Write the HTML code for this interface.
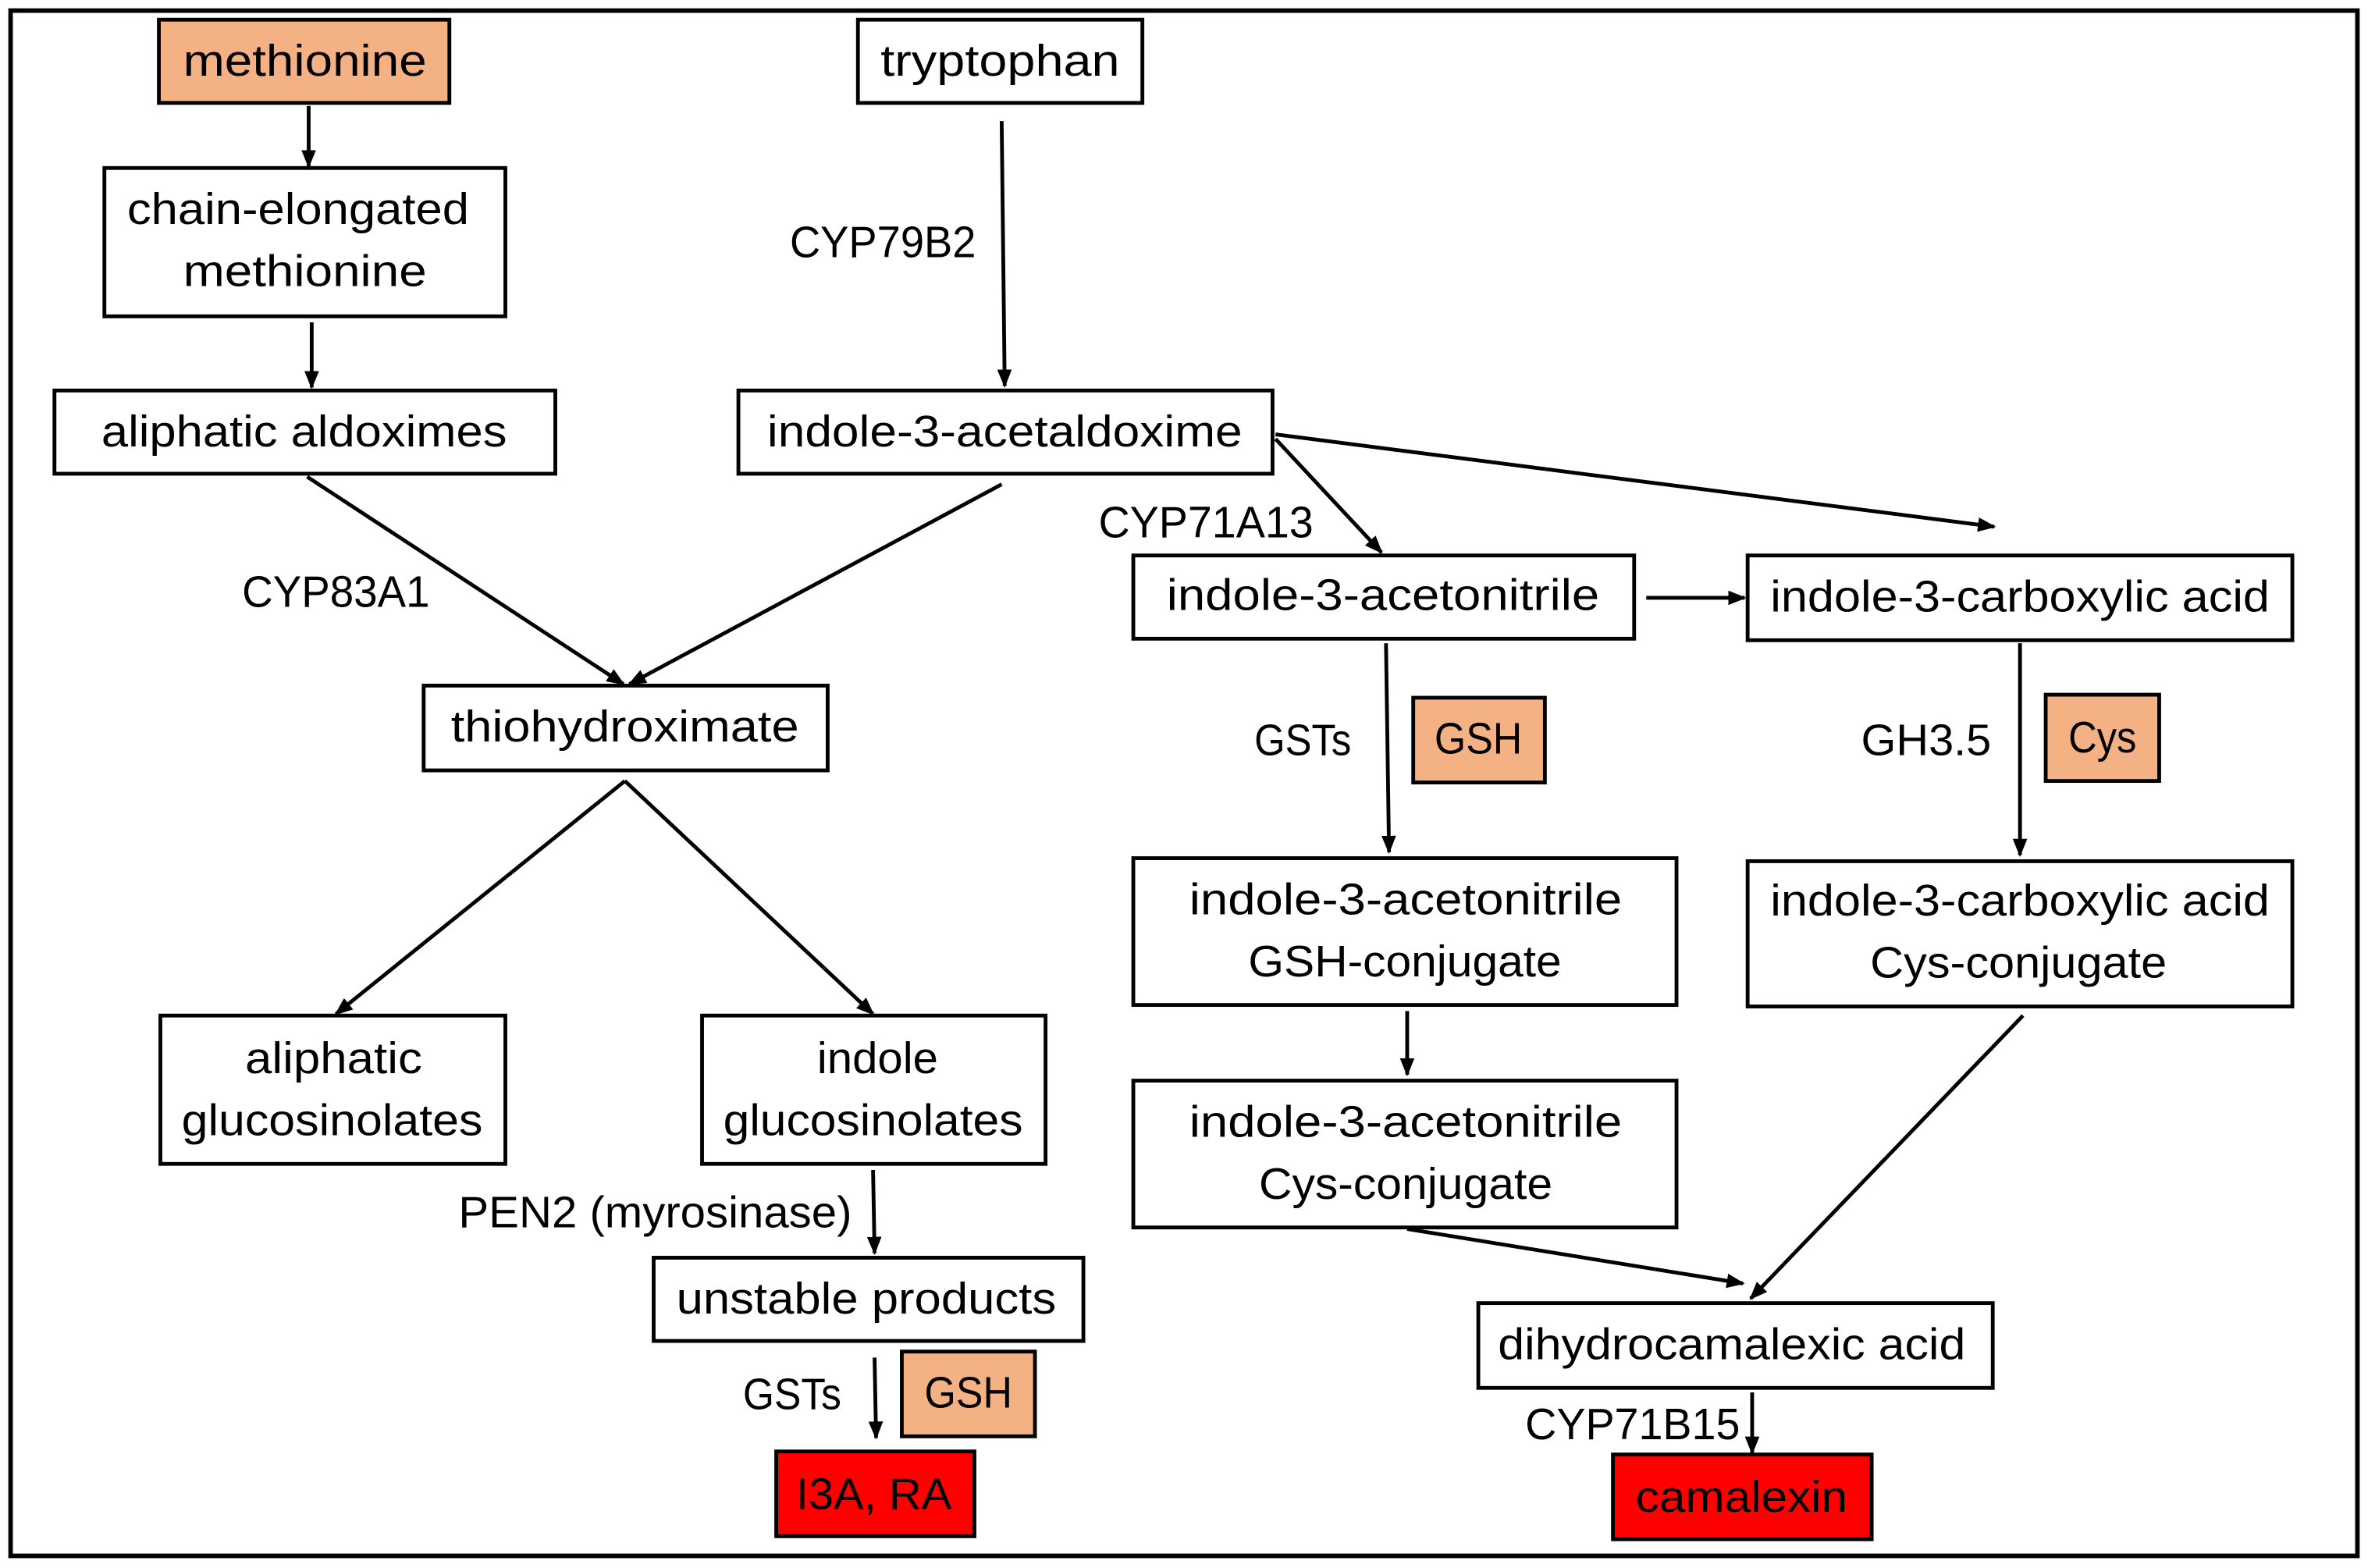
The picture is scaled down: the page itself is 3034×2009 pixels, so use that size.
<!DOCTYPE html>
<html><head><meta charset="utf-8"><style>
html,body{margin:0;padding:0;background:#fff}
svg{display:block}
text{font-family:"Liberation Sans",sans-serif;font-size:29px;fill:#000}
</style></head><body>
<svg width="3034" height="2009" viewBox="0 0 1565 1036" preserveAspectRatio="none" xmlns="http://www.w3.org/2000/svg">
<defs>
<marker id="b" viewBox="0 0 10 10" refX="9" refY="5" markerWidth="12" markerHeight="12" orient="auto" markerUnits="userSpaceOnUse"><path d="M0,1 L10,5 L0,9 z" fill="#000"/></marker></defs>
<rect x="7" y="7" width="1551" height="1021" fill="#fff" stroke="#000" stroke-width="3"/>
<g stroke="#000" stroke-width="2.5" fill="#fff">
<rect x="105" y="13" width="192" height="55" fill="#F4B183"/>
<rect x="567" y="13" width="188" height="55"/>
<rect x="69" y="111" width="265" height="98"/>
<rect x="36" y="258" width="331" height="55"/>
<rect x="488" y="258" width="353" height="55"/>
<rect x="749" y="367" width="331" height="55"/>
<rect x="1155" y="367" width="360" height="56"/>
<rect x="280" y="453" width="267" height="56"/>
<rect x="934" y="461" width="87" height="56" fill="#F4B183"/>
<rect x="1352" y="459" width="75" height="57" fill="#F4B183"/>
<rect x="749" y="567" width="359" height="97"/>
<rect x="1155" y="569" width="360" height="96"/>
<rect x="106" y="671" width="228" height="98"/>
<rect x="464" y="671" width="227" height="98"/>
<rect x="749" y="714" width="359" height="97"/>
<rect x="432" y="831" width="284" height="55"/>
<rect x="596" y="893" width="88" height="56" fill="#F4B183"/>
<rect x="513" y="959" width="131" height="56" fill="#FF0000"/>
<rect x="977" y="861" width="340" height="56"/>
<rect x="1066" y="961" width="171" height="56" fill="#FF0000"/>
</g>
<g stroke="#000" stroke-width="2.5" fill="none" marker-end="url(#b)">
<line x1="204" y1="70" x2="204" y2="110"/>
<line x1="206" y1="213" x2="206" y2="256"/>
<line x1="662" y1="80" x2="664" y2="255"/>
<line x1="203" y1="315" x2="412" y2="452"/>
<line x1="662" y1="320" x2="416" y2="452"/>
<line x1="843" y1="287" x2="1318" y2="348"/>
<line x1="843" y1="290" x2="913" y2="365"/>
<line x1="1088" y1="395" x2="1153" y2="395"/>
<line x1="916" y1="425" x2="918" y2="563"/>
<line x1="1335" y1="425" x2="1335" y2="565"/>
<line x1="930" y1="668" x2="930" y2="710"/>
<line x1="413" y1="516" x2="222" y2="670"/>
<line x1="413" y1="516" x2="577" y2="670"/>
<line x1="577" y1="773" x2="578" y2="828"/>
<line x1="578" y1="897" x2="579" y2="950"/>
<line x1="930" y1="812" x2="1152" y2="848"/>
<line x1="1337" y1="671" x2="1157" y2="858"/>
<line x1="1158" y1="920" x2="1158" y2="960"/>
</g>
<g>
<text x="121" y="50" textLength="161" lengthAdjust="spacingAndGlyphs">methionine</text>
<text x="582" y="50" textLength="158" lengthAdjust="spacingAndGlyphs">tryptophan</text>
<text x="84" y="148" textLength="226" lengthAdjust="spacingAndGlyphs">chain-elongated</text>
<text x="121" y="189" textLength="161" lengthAdjust="spacingAndGlyphs">methionine</text>
<text x="67" y="295" textLength="268" lengthAdjust="spacingAndGlyphs">aliphatic aldoximes</text>
<text x="507" y="295" textLength="314" lengthAdjust="spacingAndGlyphs">indole-3-acetaldoxime</text>
<text x="771" y="403" textLength="286" lengthAdjust="spacingAndGlyphs">indole-3-acetonitrile</text>
<text x="1170" y="404" textLength="330" lengthAdjust="spacingAndGlyphs">indole-3-carboxylic acid</text>
<text x="298" y="490" textLength="230" lengthAdjust="spacingAndGlyphs">thiohydroximate</text>
<text x="948" y="498" textLength="58" lengthAdjust="spacingAndGlyphs">GSH</text>
<text x="1367" y="497" textLength="45" lengthAdjust="spacingAndGlyphs">Cys</text>
<text x="786" y="604" textLength="286" lengthAdjust="spacingAndGlyphs">indole-3-acetonitrile</text>
<text x="825" y="645" textLength="207" lengthAdjust="spacingAndGlyphs">GSH-conjugate</text>
<text x="1170" y="605" textLength="330" lengthAdjust="spacingAndGlyphs">indole-3-carboxylic acid</text>
<text x="1236" y="646" textLength="196" lengthAdjust="spacingAndGlyphs">Cys-conjugate</text>
<text x="162" y="709" textLength="117" lengthAdjust="spacingAndGlyphs">aliphatic</text>
<text x="120" y="750" textLength="199" lengthAdjust="spacingAndGlyphs">glucosinolates</text>
<text x="540" y="709" textLength="80" lengthAdjust="spacingAndGlyphs">indole</text>
<text x="478" y="750" textLength="198" lengthAdjust="spacingAndGlyphs">glucosinolates</text>
<text x="786" y="751" textLength="286" lengthAdjust="spacingAndGlyphs">indole-3-acetonitrile</text>
<text x="832" y="792" textLength="194" lengthAdjust="spacingAndGlyphs">Cys-conjugate</text>
<text x="447" y="868" textLength="251" lengthAdjust="spacingAndGlyphs">unstable products</text>
<text x="611" y="930" textLength="58" lengthAdjust="spacingAndGlyphs">GSH</text>
<text x="526" y="997" textLength="103" lengthAdjust="spacingAndGlyphs">I3A, RA</text>
<text x="990" y="898" textLength="309" lengthAdjust="spacingAndGlyphs">dihydrocamalexic acid</text>
<text x="1081" y="999" textLength="140" lengthAdjust="spacingAndGlyphs">camalexin</text>
<text x="522" y="170" textLength="123" lengthAdjust="spacingAndGlyphs">CYP79B2</text>
<text x="160" y="401" textLength="124" lengthAdjust="spacingAndGlyphs">CYP83A1</text>
<text x="726" y="355" textLength="142" lengthAdjust="spacingAndGlyphs">CYP71A13</text>
<text x="829" y="499" textLength="64" lengthAdjust="spacingAndGlyphs">GSTs</text>
<text x="1230" y="499" textLength="86" lengthAdjust="spacingAndGlyphs">GH3.5</text>
<text x="303" y="811" textLength="260" lengthAdjust="spacingAndGlyphs">PEN2 (myrosinase)</text>
<text x="491" y="931" textLength="65" lengthAdjust="spacingAndGlyphs">GSTs</text>
<text x="1008" y="951" textLength="142" lengthAdjust="spacingAndGlyphs">CYP71B15</text>
</g>
</svg>
</body></html>
